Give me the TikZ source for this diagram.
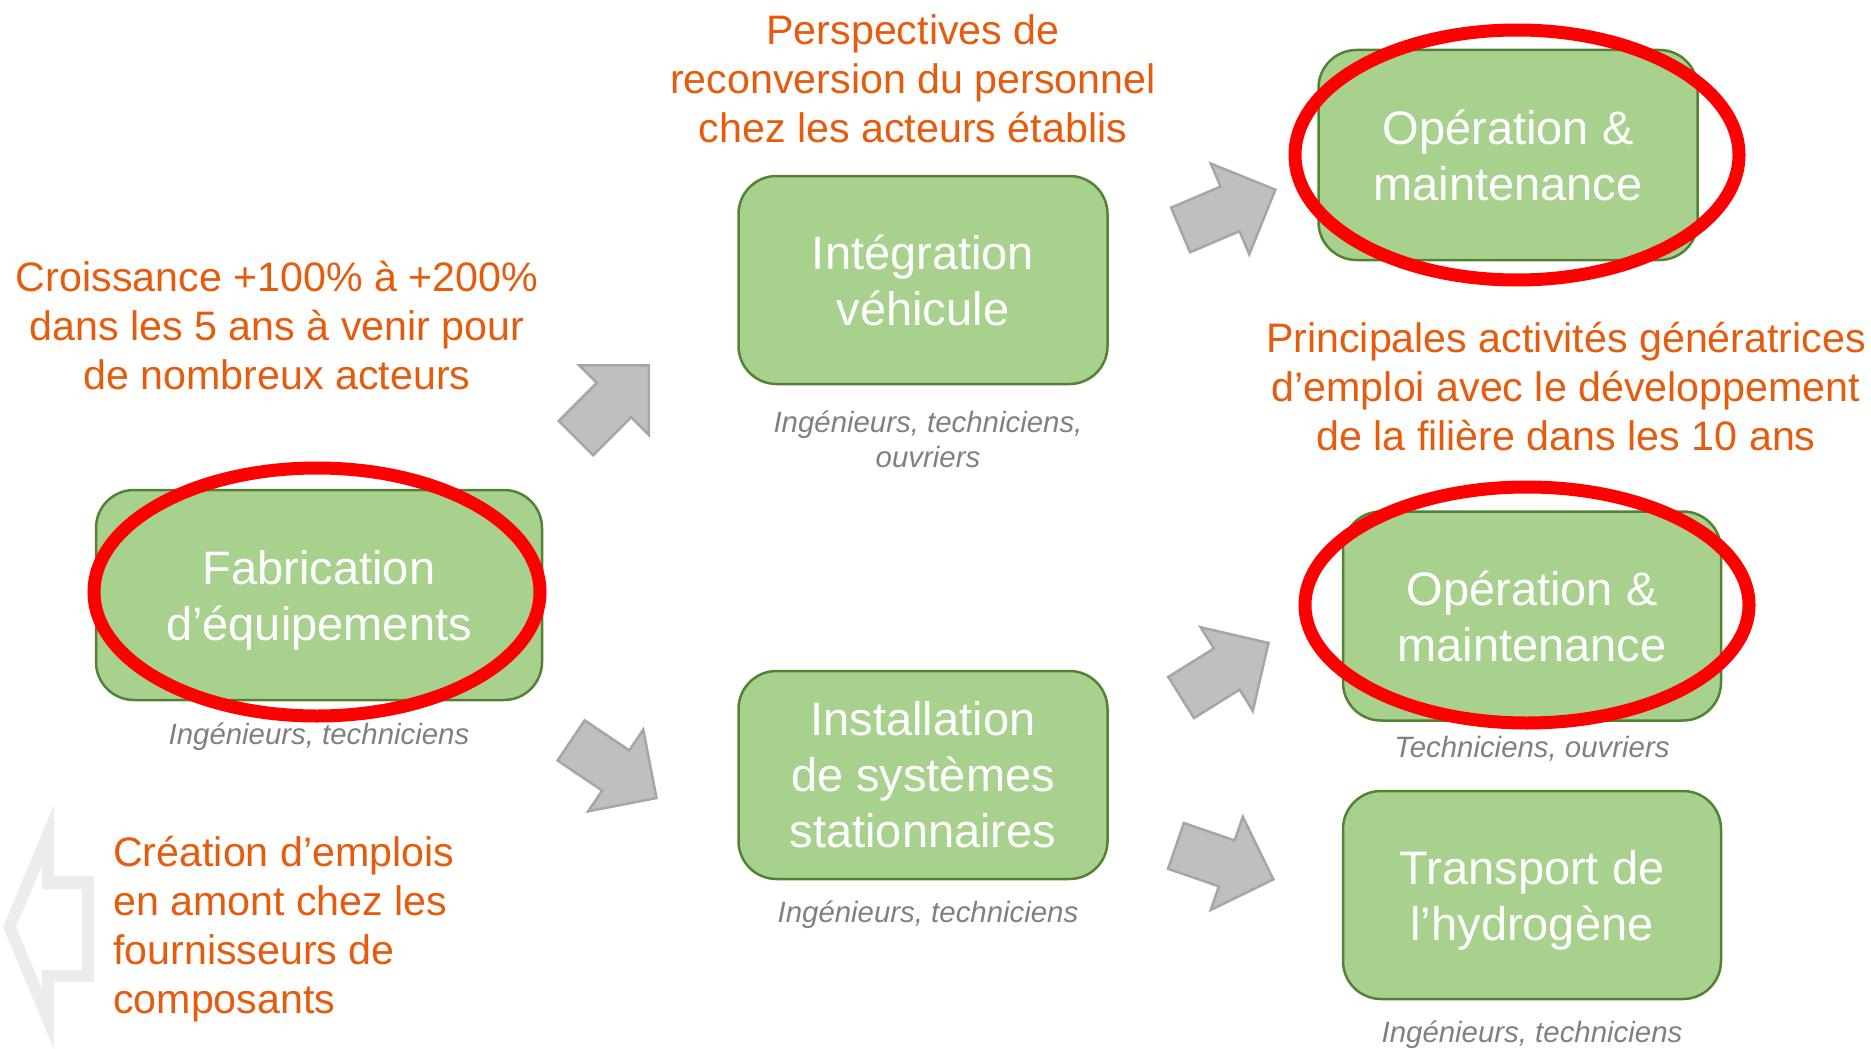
\documentclass[tikz,border=0pt]{standalone}
\usepackage{fontspec}
\setmainfont{Liberation Sans}
\usetikzlibrary{positioning,shapes.geometric,shapes.arrows}

\definecolor{boxfill}{RGB}{169,209,142}
\definecolor{boxedge}{RGB}{84,130,53}
\definecolor{notecol}{RGB}{229,92,14}
\definecolor{rolecol}{RGB}{128,128,128}
\definecolor{arrowfill}{RGB}{191,191,191}
\definecolor{arrowedge}{RGB}{166,166,166}
\definecolor{backarrow}{RGB}{236,236,236}

% last line without depth, so that descenders do not lift the text
\newcommand{\nodepth}[1]{\raisebox{0pt}[\height][0pt]{#1}}

\tikzset{
  stage/.style={draw=boxedge, fill=boxfill, line width=2.5pt, rounded corners=38pt,
    text=white, align=center, font=\fontsize{47}{56}\selectfont},
  role/.style={text=rolecol, align=center, inner sep=0pt,
    font=\fontsize{29.4}{35}\selectfont\itshape},
  note/.style={text=notecol, align=center, inner sep=0pt,
    font=\fontsize{41.2}{49}\selectfont},
  ring/.style={ellipse, draw=red, line width=13pt, inner sep=0pt},
  flow/.style={single arrow, draw=arrowedge, fill=arrowfill, line width=2.5pt,
    minimum height=103pt, single arrow head extend=25pt,
    inner xsep=0pt, inner ysep=23pt, anchor=tip}
}

\begin{document}
\begin{tikzpicture}[x=1pt, y=-1pt]
  \useasboundingbox (0,0) rectangle (1871,1049);

  %Define nodes
  \node[stage, minimum width=446pt, minimum height=210pt] (fab) at (319,595) {Fabrication\\\nodepth{d’équipements}};
  \node[stage, minimum width=369pt, minimum height=208pt] (integ) at (923,280) {Intégration\\véhicule};
  \node[stage, minimum width=369pt, minimum height=208pt] (install) at (923,775) {Installation\\de systèmes\\stationnaires};
  \node[stage, minimum width=379pt, minimum height=210pt] (om1) at (1508,155) {Opération \&\\maintenance};
  \node[stage, minimum width=378pt, minimum height=209pt] (om2) at (1532,616) {Opération \&\\maintenance};
  \node[stage, minimum width=378pt, minimum height=208pt] (transport) at (1532,895) {Transport de\\\nodepth{l’hydrogène}};

  % Staff under each step
  \node[role, below=21pt of fab] (fabrole) {Ingénieurs, techniciens};
  \node[role, below=25pt of integ, xshift=5pt] (integrole) {Ingénieurs, techniciens,\\ouvriers};
  \node[role, below=20pt of install, xshift=5pt] (installrole) {Ingénieurs, techniciens};
  \node[role, below=14pt of om2] (om2role) {Techniciens, ouvriers};
  \node[role, below=20pt of transport] (transportrole) {Ingénieurs, techniciens};

  % Comments in orange
  \node[note] (perspnote) at (913,79) {Perspectives de\\reconversion du personnel\\chez les acteurs établis};
  \node[note] (growthnote) at (277,326) {Croissance +100\% à +200\%\\dans les 5 ans à venir pour\\de nombreux acteurs};
  \node[note] (mainnote) at (1566,387) {Principales activités génératrices\\d’emploi avec le développement\\de la filière dans les 10 ans};
  \node[note, align=left, anchor=west] (upnote) at (113,929) {Création d’emplois\\en amont chez les\\fournisseurs de\\composants};

  % Block arrows between the steps
  \node[flow, rotate=45] (a1) at (650,364) {};
  \node[flow, rotate=23] (a2) at (1277,189) {};
  \node[flow, rotate=-34] (a3) at (658,799) {};
  \node[flow, rotate=32] (a4) at (1270,642) {};
  \node[flow, rotate=-19] (a5) at (1275,880) {};

  % Hollow arrow back to the suppliers
  \fill[backarrow, even odd rule]
    (54,805) -- (3,927) -- (54,1049) -- (54,982) -- (94,982) -- (94,876) -- (54,876) -- cycle
    (42,865) -- (42,889) -- (82,889) -- (82,970) -- (42,970) -- (42,989) -- (16,927) -- cycle;

  % Red rings
  \node[ring, minimum width=446pt, minimum height=248pt] (ring1) at (317,592) {};
  \node[ring, minimum width=444pt, minimum height=250pt] (ring2) at (1517,155) {};
  \node[ring, minimum width=444pt, minimum height=236pt] (ring3) at (1527,605) {};

\end{tikzpicture}
\end{document}
